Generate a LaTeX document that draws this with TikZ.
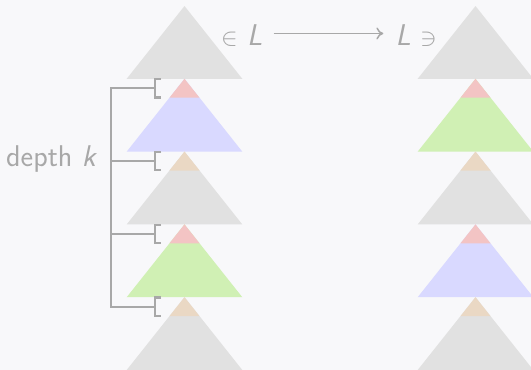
\documentclass[tikz,border=0pt]{standalone}
\usetikzlibrary{arrows.meta}
\definecolor{bg}{RGB}{248,248,250}
\definecolor{lc}{RGB}{168,168,168}
\definecolor{tgrey}{RGB}{225,225,225}
\definecolor{tblue}{RGB}{217,217,255}
\definecolor{tgreen}{RGB}{208,240,180}
\definecolor{tpink}{RGB}{243,196,196}
\definecolor{ttan}{RGB}{234,216,196}
\tikzset{
  lbl/.style={text=lc, inner sep=0pt, font=\sffamily\fontsize{30}{36}\selectfont},
  brk/.style={draw=lc, line width=2.2pt, line join=miter},
  arr/.style={draw=lc, line width=1.5pt, -{Computer Modern Rightarrow[length=7pt,width=12pt]}},
  pics/fulltri/.style={code={\fill[#1] (0,0) -- (57.8,72.8) -- (-57.8,72.8) -- cycle;}},
  pics/tiptri/.style 2 args={code={
    \fill[#2] (0,0) -- (57.8,72.8) -- (-57.8,72.8) -- cycle;
    \fill[#1] (0,0) -- (15.0,18.9) -- (-15.0,18.9) -- cycle;}}
}
\begin{document}
\begin{tikzpicture}[x=1pt,y=-1pt]
\fill[bg] (0,0) rectangle (531,370);
\useasboundingbox (0,0) rectangle (531,370);
% left column
\pic at (184.5,6) {fulltri=tgrey};
\pic at (184.5,78.8) {tiptri={tpink}{tblue}};
\pic at (184.5,151.6) {tiptri={ttan}{tgrey}};
\pic at (184.5,224.4) {tiptri={tpink}{tgreen}};
\pic at (184.5,297.2) {tiptri={ttan}{tgrey}};
% right column
\pic at (475.5,6) {fulltri=tgrey};
\pic at (475.5,78.8) {tiptri={tpink}{tgreen}};
\pic at (475.5,151.6) {tiptri={ttan}{tgrey}};
\pic at (475.5,224.4) {tiptri={tpink}{tblue}};
\pic at (475.5,297.2) {tiptri={ttan}{tgrey}};
% labels
\node[lbl, anchor=base west] (inL) at (221,45) {$\in$ \textit{L}};
\node[lbl, anchor=base east] (Lni) at (437,45) {\textit{L} $\ni$};
\draw[arr, shorten <=11pt, shorten >=12pt] ([yshift=1.6pt]inL.east) -- ([yshift=1.6pt]Lni.west);
\node[lbl, anchor=base west] (depth) at (6,166.7) {depth \textit{k}};
% brackets
\draw[brk] (155,88.25) -- (111,88.25) -- (111,306.65) -- (155,306.65);
\draw[brk] (111,161.05) -- (155,161.05);
\draw[brk] (111,233.85) -- (155,233.85);
\foreach \yy in {88.25,161.05,233.85,306.65}{
  \draw[brk] (161,\yy-9.2) -- (155,\yy-9.2) -- (155,\yy+9.2) -- (161,\yy+9.2);
}
\end{tikzpicture}
\end{document}
